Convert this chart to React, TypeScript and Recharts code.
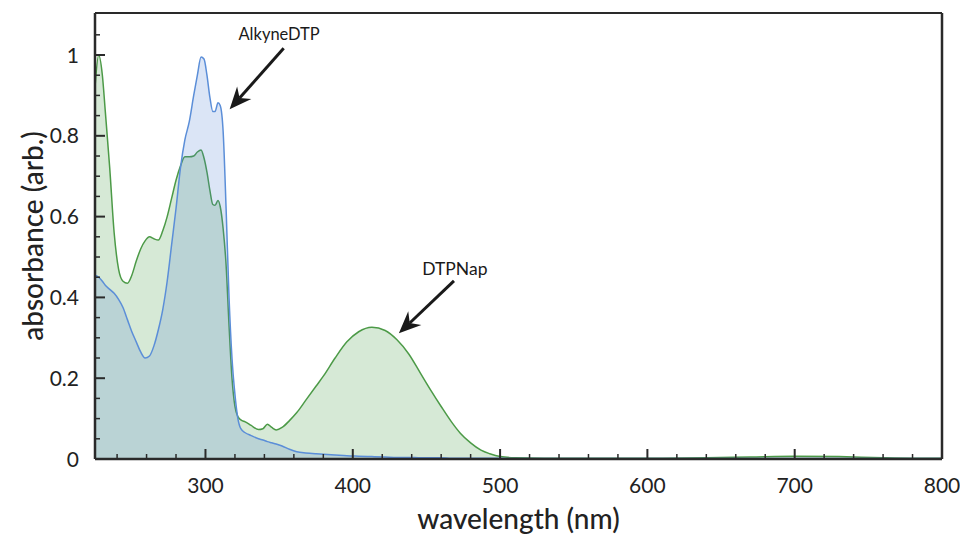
import React from 'react';
import { ComposedChart, Area, XAxis, YAxis, ReferenceLine, ReferenceDot, Label } from 'recharts';

// wavelength (nm)
const wavelengths = [
  225, 227.5, 230, 232, 235, 238, 241, 244, 247, 250, 253, 256, 259, 262, 265, 268, 271, 274, 277, 280,
  283, 286, 289, 292, 294.5, 297, 299, 301, 303, 305, 306.5, 308.5, 310, 312, 314, 316, 318, 320, 322, 324,
  327, 331, 336, 339, 342, 345, 348, 352, 357, 362, 368, 375, 380, 388, 396, 404, 413, 422, 430, 438,
  446, 453, 460, 467, 473, 480, 487, 493, 500, 510, 530, 560, 600, 640, 670, 700, 730, 760, 780, 800,
];

// DTPNap absorbance (green)
const dtpNap = [
  0.92, 1.0, 0.95, 0.86, 0.72, 0.56, 0.47, 0.44, 0.435, 0.455, 0.49, 0.52, 0.54, 0.55, 0.545, 0.542, 0.565, 0.6, 0.645, 0.69,
  0.725, 0.748, 0.748, 0.75, 0.76, 0.765, 0.745, 0.71, 0.665, 0.63, 0.628, 0.64, 0.625, 0.57, 0.48, 0.33, 0.2, 0.13, 0.105, 0.097,
  0.092, 0.083, 0.073, 0.075, 0.086, 0.078, 0.072, 0.078, 0.095, 0.115, 0.145, 0.18, 0.205, 0.25, 0.29, 0.315, 0.326, 0.318, 0.295, 0.26,
  0.212, 0.17, 0.13, 0.092, 0.064, 0.04, 0.022, 0.013, 0.006, 0.003, 0.002, 0.002, 0.002, 0.003, 0.005, 0.007, 0.006, 0.003, 0.002, 0.002,
];

// AlkyneDTP absorbance (blue)
const alkyneDTP = [
  0.455, 0.45, 0.44, 0.43, 0.42, 0.41, 0.395, 0.375, 0.345, 0.315, 0.29, 0.265, 0.25, 0.255, 0.28, 0.32, 0.37, 0.44, 0.53, 0.62,
  0.72, 0.79, 0.835, 0.9, 0.95, 0.995, 0.99, 0.95, 0.895, 0.86, 0.86, 0.882, 0.875, 0.81, 0.62, 0.4, 0.25, 0.16, 0.1, 0.075,
  0.065, 0.058, 0.05, 0.047, 0.043, 0.04, 0.037, 0.032, 0.024, 0.018, 0.015, 0.013, 0.012, 0.01, 0.008, 0.007, 0.006, 0.005, 0.004, 0.004,
  0.003, 0.003, 0.003, 0.002, 0.002, 0.002, 0.002, 0.002, 0.002, 0.001, 0.001, 0.001, 0.001, 0.001, 0.001, 0.001, 0.001, 0.001, 0.001, 0.001,
];

const xTicks = [
  240, 260, 280, 300, 320, 340, 360, 380, 400, 420, 440, 460, 480, 500, 520, 540, 560, 580, 600,
  620, 640, 660, 680, 700, 720, 740, 760, 780, 800,
];
const xMajor = [300, 400, 500, 600, 700, 800];
const yTicks = [0, 0.05, 0.1, 0.15, 0.2, 0.25, 0.3, 0.35, 0.4, 0.45, 0.5, 0.55, 0.6, 0.65, 0.7, 0.75, 0.8, 0.85, 0.9, 0.95, 1, 1.05];
const yMajor = [0, 0.2, 0.4, 0.6, 0.8, 1];

const annotationText = ['AlkyneDTP', 'DTPNap'];
const annotationLabelAt = [[350, 1.037], [469.3, 0.455]];
const annotationTail = [[353.1, 1.017], [468.7, 0.441]];
const annotationTip = [[316.4, 0.866], [431.3, 0.311]];

const X_DOMAIN: [number, number] = [225, 800];
const Y_DOMAIN: [number, number] = [0, 1.104];

const data = wavelengths.map((wl, i) => ({ wl, dtpNap: dtpNap[i], alkyneDTP: alkyneDTP[i] }));

const FONT = 'Lato, "Open Sans", sans-serif';
const INK = '#2a2a2a';

const XTick = (props: any) => {
  const { x, y, payload } = props;
  const v = payload.value;
  const major = xMajor.includes(v);
  return (
    <g>
      <line x1={x} x2={x} y1={y} y2={y - (major ? 10 : 5)} stroke={INK} strokeWidth={major ? 2 : 1.5} />
      {major && (
        <text x={x} y={y + 34} textAnchor="middle" fontSize={21} fill="#222" fontFamily={FONT}>
          {v}
        </text>
      )}
    </g>
  );
};

const YTick = (props: any) => {
  const { x, y, payload } = props;
  const v = payload.value;
  const major = yMajor.some((m) => Math.abs(m - v) < 1e-6);
  const lbl = Math.abs(v) < 1e-6 ? '0' : Math.abs(v - 1) < 1e-6 ? '1' : v.toFixed(1);
  return (
    <g>
      <line x1={x} x2={x + (major ? 10 : 5)} y1={y} y2={y} stroke={INK} strokeWidth={major ? 2 : 1.5} />
      {major && (
        <text x={x - 16} y={y} dy="0.36em" textAnchor="end" fontSize={21} fill="#222" fontFamily={FONT}>
          {lbl}
        </text>
      )}
    </g>
  );
};

const Arrow = (props: any) => {
  const { x1, y1, x2, y2 } = props;
  const dx = x2 - x1;
  const dy = y2 - y1;
  const len = Math.sqrt(dx * dx + dy * dy) || 1;
  const ux = dx / len;
  const uy = dy / len;
  const px = -uy;
  const py = ux;
  const headLen = 22;
  const half = 9.5;
  const notch = 15;
  const bx = x2 - ux * headLen;
  const by = y2 - uy * headLen;
  const nx = x2 - ux * notch;
  const ny = y2 - uy * notch;
  const pts = [
    [x2, y2],
    [bx + px * half, by + py * half],
    [nx, ny],
    [bx - px * half, by - py * half],
  ]
    .map((p) => p.join(','))
    .join(' ');
  return (
    <g>
      <line x1={x1} y1={y1} x2={nx} y2={ny} stroke="#1a1a1a" strokeWidth={3} />
      <polygon points={pts} fill="#1a1a1a" />
    </g>
  );
};

export default function App() {
  return (
    <div style={{ position: 'absolute', left: 0, top: 0, width: 960, height: 536, background: '#fff', fontFamily: FONT }}>
      <ComposedChart width={960} height={536} data={data} margin={{ top: 13, right: 18, bottom: 0, left: 0 }}>
        <XAxis
          dataKey="wl"
          type="number"
          domain={X_DOMAIN}
          allowDataOverflow
          ticks={xTicks}
          interval={0}
          tick={<XTick />}
          tickLine={false}
          tickSize={0}
          tickMargin={0}
          height={77}
          axisLine={{ stroke: INK, strokeWidth: 2.5 }}
        >
          <Label
            content={(p: any) => {
              const vb = p.viewBox;
              return (
                <text x={vb.x + vb.width / 2} y={529} textAnchor="middle" fontSize={28} fill="#222" fontFamily={FONT} fontWeight={500}>
                  wavelength (nm)
                </text>
              );
            }}
          />
        </XAxis>
        <YAxis
          type="number"
          domain={Y_DOMAIN}
          allowDataOverflow
          ticks={yTicks}
          interval={0}
          tick={<YTick />}
          tickLine={false}
          tickSize={0}
          tickMargin={0}
          width={95}
          axisLine={{ stroke: INK, strokeWidth: 2.5 }}
        >
          <Label
            content={(p: any) => {
              const vb = p.viewBox;
              const cy = vb.y + vb.height / 2;
              return (
                <text
                  x={43}
                  y={cy}
                  transform={`rotate(-90 43 ${cy})`}
                  textAnchor="middle"
                  fontSize={28}
                  fill="#222"
                  fontFamily={FONT}
                  fontWeight={500}
                >
                  absorbance (arb.)
                </text>
              );
            }}
          />
        </YAxis>
        <Area
          dataKey="dtpNap"
          type="monotone"
          stroke="#4c9a47"
          strokeWidth={1.5}
          fill="#5aa85a"
          fillOpacity={0.25}
          dot={false}
          activeDot={false}
          isAnimationActive={false}
        />
        <Area
          dataKey="alkyneDTP"
          type="monotone"
          stroke="#5b8ed8"
          strokeWidth={1.5}
          fill="#4a7fd0"
          fillOpacity={0.2}
          dot={false}
          activeDot={false}
          isAnimationActive={false}
        />
        <ReferenceLine y={Y_DOMAIN[1]} stroke={INK} strokeWidth={2} ifOverflow="visible" />
        <ReferenceLine x={X_DOMAIN[1]} stroke={INK} strokeWidth={2.5} ifOverflow="visible" />
        {annotationText.map((t, i) => (
          <ReferenceLine
            key={'arrow' + i}
            segment={[
              { x: annotationTail[i][0], y: annotationTail[i][1] },
              { x: annotationTip[i][0], y: annotationTip[i][1] },
            ]}
            ifOverflow="visible"
            shape={(p: any) => <Arrow {...p} />}
          />
        ))}
        {annotationText.map((t, i) => (
          <ReferenceDot
            key={'label' + i}
            x={annotationLabelAt[i][0]}
            y={annotationLabelAt[i][1]}
            r={0}
            ifOverflow="visible"
            shape={(p: any) => (
              <text x={p.cx} y={p.cy} textAnchor="middle" fontSize={i === 0 ? 16.5 : 17.5} fill="#1a1a1a" fontFamily={FONT}>
                {t}
              </text>
            )}
          />
        ))}
      </ComposedChart>
    </div>
  );
}
